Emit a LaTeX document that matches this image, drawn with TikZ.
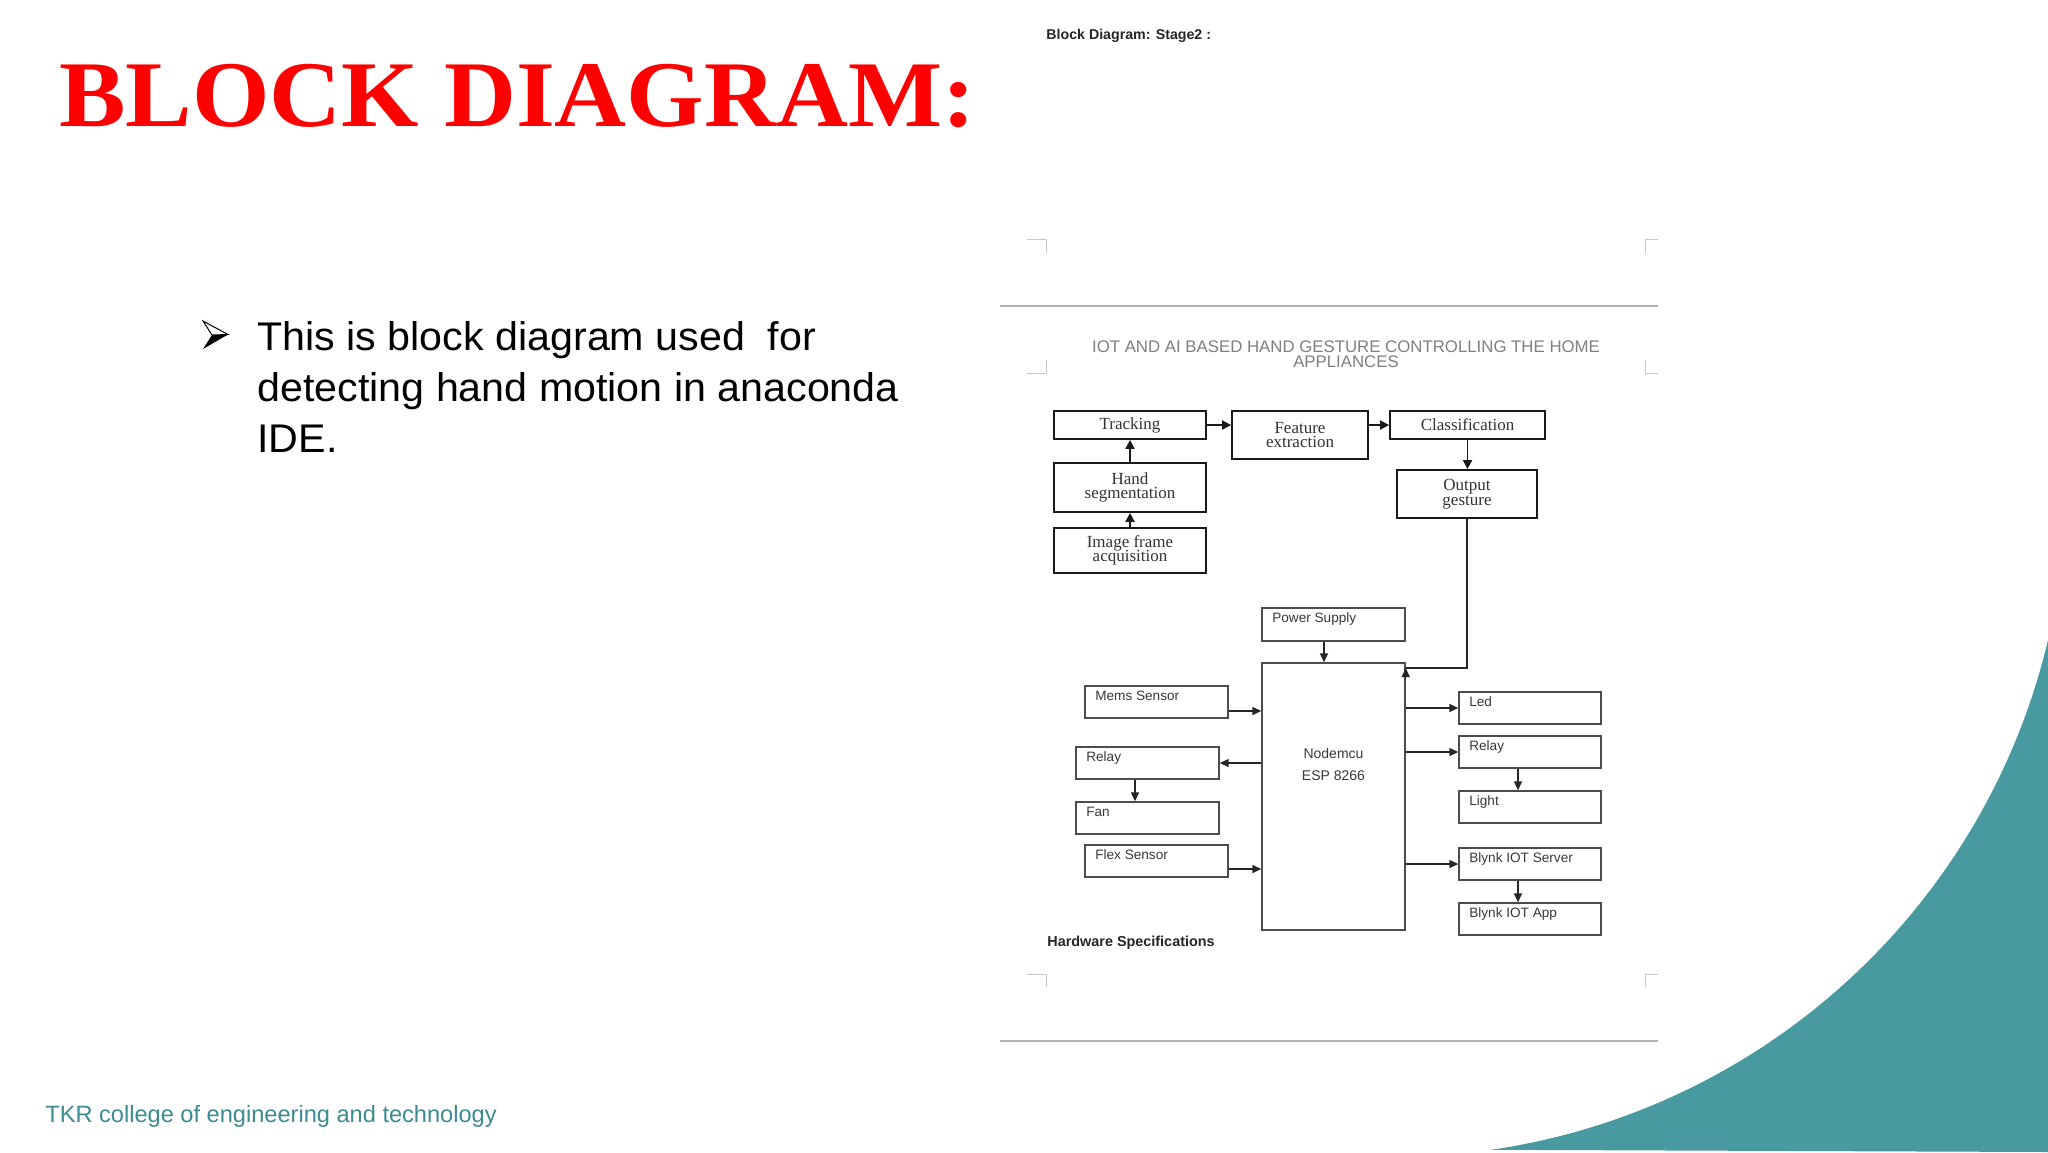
\documentclass[tikz,border=0pt]{standalone}
\usepackage{fontspec}
\usepackage{graphicx}
\setmainfont{Liberation Serif}
\setsansfont{Liberation Sans}
\newfontfamily\bulletfont[FakeStretch=1.03]{Liberation Sans}
\usetikzlibrary{arrows.meta,calc}
\definecolor{tealbg}{RGB}{72,153,160}
\definecolor{tealtxt}{RGB}{58,140,146}
\definecolor{titlered}{RGB}{255,0,0}
\lineskiplimit=-10pt
\tikzset{
  procbox/.style={draw=black!90, line width=0.9pt, inner sep=0pt, align=center, text=black!80,
    font=\fontsize{8.5}{7.2}\selectfont},
  hwbox/.style={draw=black!70, line width=0.7pt, inner sep=0pt, minimum width=71.5pt, minimum height=16pt},
  hwtext/.style={font=\sffamily\fontsize{6.8}{8}\selectfont, text=black!78, inner sep=0pt,
    anchor=north west, xshift=5.3pt, yshift=-2.5pt},
  mcutext/.style={font=\sffamily\fontsize{7}{11}\selectfont, text=black!78, inner sep=0pt,
    anchor=north, align=center, yshift=-43pt},
  arr/.style={-{Triangle[length=4.5pt,width=4pt]}, line width=0.7pt, draw=black!85},
  parr/.style={-{Triangle[length=4.5pt,width=4.5pt]}, line width=0.9pt, draw=black!90},
  cornermark/.style={draw=black!22, line width=0.5pt},
  grayrule/.style={draw=black!30, line width=0.8pt},
}
\begin{document}
\begin{tikzpicture}[x=0.5pt,y=-0.5pt]
\useasboundingbox (0,0) rectangle (2048,1152);
\fill[white] (0,0) rectangle (2048,1152);
% teal corner shape
\fill[tealbg] (2048,640) arc[start angle=-13.35, end angle=-81.7, radius=336pt] -- (2048,1152) -- cycle;

% title
\node[anchor=base west, inner sep=0pt, text=titlered, font=\bfseries\fontsize{47}{47}\selectfont] (title) at (59,126) {\scalebox{1.06}[1]{BLOCK DIAGRAM:}};

% bullet
\fill[black] (212,335) -- (228,334.5) -- (203,349) -- cycle;
\draw[line width=0.5pt, fill=white, line join=miter] (203,321) -- (228,334.5) -- (212,335) -- cycle;
\node[anchor=north west, inner sep=0pt, align=left, font=\bulletfont\fontsize{20}{25.5}\selectfont] (btext) at (257,321)
  {This is block diagram used\ \ for\\detecting hand motion in anaconda\\IDE.};

% footer
\node[anchor=base west, inner sep=0pt, text=tealtxt, font=\sffamily\fontsize{11.8}{14}\selectfont] (footer) at (45,1122) {TKR college of engineering and technology};

% document panel
\node[anchor=base west, inner sep=0pt, text=black!85, font=\sffamily\bfseries\fontsize{7.1}{8}\selectfont] (stage) at (1046,39) {Block Diagram: Stage2 :};
\draw[cornermark] (1027,239) -- (1046,239) -- (1046,253);
\draw[cornermark] (1645,253) -- (1645,239) -- (1658,239);
\draw[grayrule] (1000,306) -- (1658,306);
\node[anchor=north, inner sep=0pt, align=center, text=black!50, font=\sffamily\fontsize{8.4}{7.8}\selectfont] (doctitle) at (1346,340)
  {IOT AND AI BASED HAND GESTURE CONTROLLING THE HOME\\APPLIANCES};
\draw[cornermark] (1046,360) -- (1046,373) -- (1027,373);
\draw[cornermark] (1645,360) -- (1645,373) -- (1658,373);
\draw[cornermark] (1027,974) -- (1046,974) -- (1046,987);
\draw[cornermark] (1645,987) -- (1645,974) -- (1658,974);
\draw[grayrule] (1000,1041) -- (1658,1041);

% software pipeline
\node[procbox, minimum width=76pt, minimum height=14pt] (track) at (1130,425) {Tracking};
\node[procbox, minimum width=68pt, minimum height=24pt] (feat) at (1300,435) {Feature\\extraction};
\node[procbox, minimum width=77.5pt, minimum height=14pt] (class) at (1467.5,425) {Classification};
\node[procbox, minimum width=76pt, minimum height=24.5pt] (hand) at (1130,487.5) {Hand\\segmentation};
\node[procbox, minimum width=76pt, minimum height=22.5pt] (img) at (1130,550.5) {Image frame\\acquisition};
\node[procbox, minimum width=70pt, minimum height=24pt] (out) at (1467,494) {Output\\gesture};

\draw[parr] (track.east) -- (feat.west |- track.east);
\draw[parr] (feat.east |- class.west) -- (class.west);
\draw[parr] (class.south) -- (class.south |- out.north);
\draw[parr] (hand.north) -- (track.south);
\draw[parr] (img.north) -- (hand.south);

% hardware
\node[hwbox, minimum height=16.5pt, label={[hwtext]north west:Power Supply}] (power) at (1333.5,624.5) {};
\node[hwbox, minimum height=133.5pt, label={[mcutext]north:Nodemcu\\ESP 8266}] (mcu) at (1333.5,796.5) {};
\node[hwbox, label={[hwtext]north west:Mems Sensor}] (mems) at (1156.5,702) {};
\node[hwbox, label={[hwtext]north west:Relay}] (relL) at (1147.5,763) {};
\node[hwbox, label={[hwtext]north west:Fan}] (fan) at (1147.5,818) {};
\node[hwbox, label={[hwtext]north west:Flex Sensor}] (flex) at (1156.5,861) {};
\node[hwbox, minimum width=71pt, label={[hwtext]north west:Led}] (led) at (1530,708) {};
\node[hwbox, minimum width=71pt, label={[hwtext]north west:Relay}] (relR) at (1530,752) {};
\node[hwbox, minimum width=71pt, label={[hwtext]north west:Light}] (light) at (1530,807) {};
\node[hwbox, minimum width=71pt, label={[hwtext]north west:Blynk IOT Server}] (server) at (1530,864) {};
\node[hwbox, minimum width=71pt, label={[hwtext]north west:Blynk IOT App}] (app) at (1530,919) {};

\node[anchor=base west, inner sep=0pt, text=black!85, font=\sffamily\bfseries\fontsize{7.2}{8}\selectfont] (hwspec) at (1047,946) {Hardware Specifications};

% output gesture to nodemcu
\coordinate (join) at (mcu.east |- 0,668);
\coordinate (joinlow) at (mcu.east |- 0,679);
\draw[line width=0.7pt, draw=black!85] (out.south) |- (join);
\draw[arr] (joinlow) -- (join);

\draw[arr] ([xshift=-4.75pt]power.south) -- ([xshift=-4.75pt]power.south |- mcu.north);
\draw[arr] ([yshift=-4.5pt]mems.east) -- ([yshift=-4.5pt]mems.east -| mcu.west);
\draw[arr] (mcu.west |- relL.east) -- (relL.east);
\draw[arr] ([xshift=-6.25pt]relL.south) -- ([xshift=-6.25pt]relL.south |- fan.north);
\draw[arr] ([yshift=-4pt]flex.east) -- ([yshift=-4pt]flex.east -| mcu.west);
\draw[arr] (mcu.east |- led.west) -- (led.west);
\draw[arr] (mcu.east |- relR.west) -- (relR.west);
\draw[arr] ([xshift=-6pt]relR.south) -- ([xshift=-6pt]relR.south |- light.north);
\draw[arr] (mcu.east |- server.west) -- (server.west);
\draw[arr] ([xshift=-6pt]server.south) -- ([xshift=-6pt]server.south |- app.north);
\end{tikzpicture}
\end{document}
